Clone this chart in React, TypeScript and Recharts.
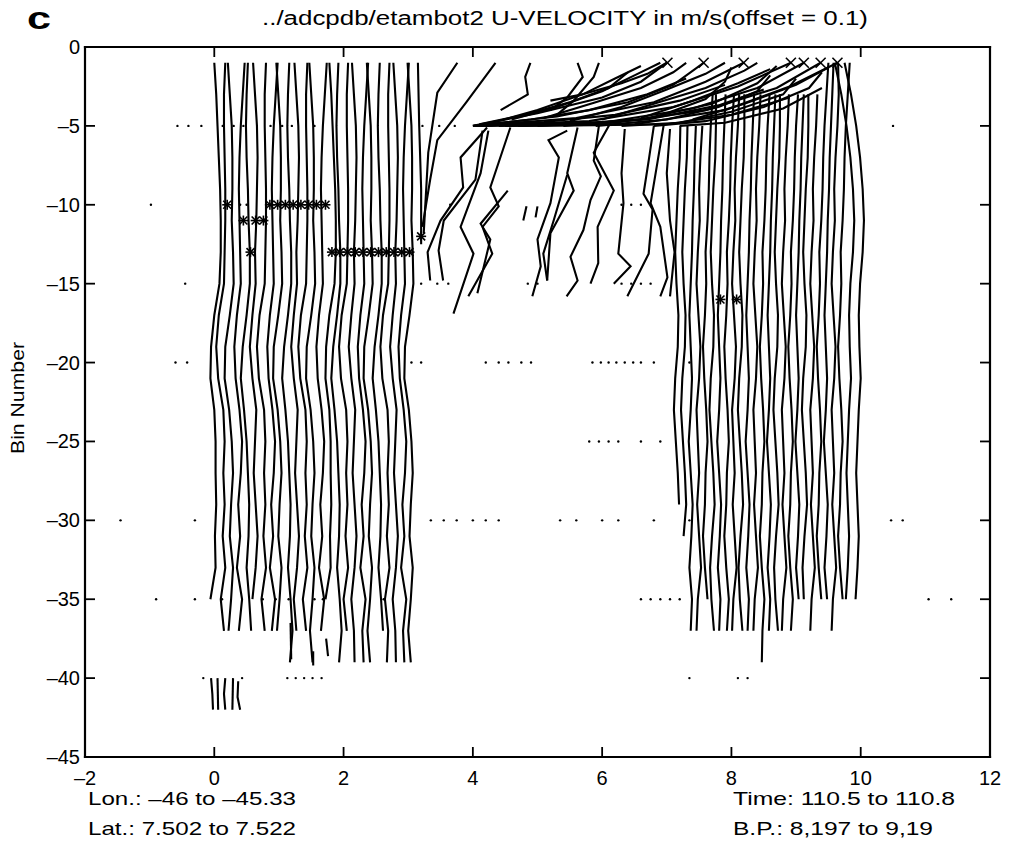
import { ComposedChart, Line, Scatter, XAxis, YAxis } from "recharts";

const X_TICKS = [-2, 0, 2, 4, 6, 8, 10, 12];
const Y_TICKS = [0, -5, -10, -15, -20, -25, -30, -35, -40, -45];
const X_DOMAIN = [-2, 12];
const Y_DOMAIN = [-45, 0];

// bins where every profile is sampled (top to bottom)
const BINS = [-1, -3, -5, -7, -9, -11, -13, -15, -17, -19, -21, -23, -25, -27, -29, -31, -33, -35, -37, -39];

// velocity offsets (x units) of the profiles in the left block, one value per bin
const LEFT_SHAPES = [
  [0.0, 0.03, 0.05, 0.07, 0.09, 0.1, 0.1, 0.08, 0.0, -0.05, -0.06, 0.0, 0.02, 0.02, 0.03, 0.01, 0.02, -0.06, 0.01, 0.0],
  [0.04, 0.02, 0.02, 0.03, 0.04, 0.04, 0.03, 0.02, -0.06, -0.1, -0.07, 0.01, 0.03, 0.01, 0.03, 0.0, 0.04, -0.03, 0.02, 0.0],
  [-0.05, -0.02, 0.01, 0.02, 0.02, 0.01, 0.03, 0.04, -0.02, -0.09, -0.1, -0.03, 0.01, 0.03, 0.0, -0.02, 0.03, 0.0, -0.04, 0.0],
  [0.09, 0.06, 0.03, 0.01, 0.0, 0.01, 0.02, 0.03, -0.03, -0.07, -0.05, 0.01, 0.05, 0.03, -0.01, 0.02, -0.03, 0.05, 0.0, 0.02],
  [0.02, 0.0, -0.01, 0.0, 0.02, 0.03, 0.05, 0.05, 0.0, -0.06, -0.09, -0.04, 0.0, 0.02, 0.04, 0.03, 0.0, 0.04, 0.07, 0.03],
  [-0.03, 0.0, 0.03, 0.04, 0.03, 0.02, 0.0, 0.01, -0.04, -0.08, -0.04, 0.02, 0.0, -0.02, 0.01, 0.04, 0.01, -0.04, 0.0, 0.01],
];
const LEFT_BASE = [0.0, 0.13, 0.26, 0.38, 0.5, 0.63, 0.76, 0.89, 1.01, 1.14, 1.27, 1.4, 1.52, 1.65, 1.78, 1.9, 2.03, 2.16, 2.29, 2.41, 2.54, 2.67, 2.8, 2.92, 3.04];
const LEFT_SHAPE_ID = [0, 1, 2, 3, 4, 5, 1, 3, 2, 4, 5, 1, 2, 3, 0, 4, 1, 5, 3, 2, 4, 1, 5, 3, 2];
const LEFT_BOTTOM = [-35, -37, -37, -37, -37, -35, -37, -37, -37, -39, -37, -37, -39, -37, -35, -39, -37, -39, -39, -39, -37, -39, -39, -39, -39];

// right block
const RIGHT_SHAPES = [
  [0.12, 0.1, 0.08, 0.06, 0.05, 0.03, 0.02, 0.0, -0.02, 0.0, 0.02, 0.0, -0.03, 0.0, 0.03, 0.01, -0.02, 0.02, 0.0, 0.0],
  [0.08, 0.09, 0.07, 0.04, 0.02, 0.03, 0.0, -0.02, 0.01, 0.04, 0.02, -0.02, 0.0, 0.02, -0.01, 0.02, 0.05, 0.0, -0.02, 0.0],
  [0.15, 0.12, 0.09, 0.07, 0.06, 0.04, 0.01, 0.02, 0.0, -0.03, -0.01, 0.02, 0.04, 0.01, 0.0, -0.03, 0.0, 0.04, 0.01, 0.0],
  [0.05, 0.06, 0.06, 0.05, 0.02, 0.0, -0.02, 0.0, 0.03, 0.02, -0.02, -0.04, -0.01, 0.02, 0.04, 0.0, -0.03, -0.01, 0.03, 0.0],
  [-0.2, -0.1, -0.02, 0.04, 0.08, 0.1, 0.08, 0.04, 0.02, 0.03, 0.05, 0.02, 0.0, -0.02, 0.0, 0.02, 0.0, -0.03, 0.0, 0.0],
];
const RIGHT_BASE = [7.15, 7.26, 7.37, 7.48, 7.59, 7.7, 7.81, 7.92, 8.03, 8.14, 8.25, 8.36, 8.47, 8.58, 8.69, 8.8, 8.91, 9.02, 9.13, 9.24, 9.35, 9.46, 9.57, 9.68, 9.8, 9.95];
const RIGHT_SHAPE_ID = [3, 3, 0, 1, 2, 3, 0, 2, 1, 3, 0, 1, 2, 0, 3, 1, 2, 0, 3, 1, 2, 0, 1, 2, 4, 4];
const RIGHT_TOP = [-5, -5, -5, -5, -3, -3, -3, -3, -3, -3, -3, -3, -3, -3, -3, -3, -3, -3, -3, -3, -1, -1, -1, -1, -1, -1];
const RIGHT_BOTTOM = [-29, -31, -37, -37, -35, -37, -37, -37, -37, -37, -37, -37, -39, -37, -37, -37, -37, -35, -35, -37, -35, -35, -37, -35, -35, -35];

// broken profiles in the middle gap, as [x, bin] vertices
const MID_LINES: number[][][] = [
  [[3.15, -1], [3.17, -5], [3.2, -9], [3.2, -12.5]],
  [[3.76, -1], [3.45, -2.9], [3.31, -6.7], [3.24, -11.8]],
  [[4.35, -1], [3.9, -3.5], [3.45, -5.9], [3.34, -8.4], [3.22, -11.4]],
  [[4.89, -1], [4.81, -1.9], [4.85, -3], [4.43, -4]],
  [[5.62, -1], [5.7, -1.9], [5.46, -3.2], [5.2, -4.0]],
  [[5.95, -1], [5.87, -1.9], [5.56, -3.4], [5.3, -4.3]],
  [[4.22, -5.1], [3.81, -7], [3.85, -8.9], [3.5, -11], [3.3, -13], [3.34, -14.8]],
  [[4.15, -5.3], [4.04, -8.4], [3.55, -11], [3.47, -12.9], [3.54, -14.8]],
  [[4.24, -5.3], [4.12, -8], [3.81, -11.4], [4.01, -13.1], [3.7, -16.9]],
  [[4.58, -5.1], [4.27, -8.9], [4.4, -10.1], [4.15, -11.4], [4.3, -13.1], [3.93, -15.8]],
  [[4.54, -9.1], [4.12, -11.2], [4.27, -12.2], [4.07, -15.6]],
  [[4.83, -10.1], [4.78, -11.0]],
  [[5.0, -10.1], [4.97, -10.8]],
  [[5.46, -5.3], [5.17, -5.9], [5.33, -7], [5.2, -9.9], [5.0, -12.2], [5.05, -13.9], [4.92, -15.8]],
  [[5.62, -5.1], [5.46, -8], [5.56, -9.1], [5.2, -11.8], [5.15, -14.8]],
  [[5.46, -8.1], [5.25, -11], [5.09, -13.1], [5.15, -14.8]],
  [[5.95, -5.0], [5.87, -7.2], [5.98, -8.2], [5.82, -9.7], [5.71, -11.6], [5.51, -13.3], [5.62, -14.8], [5.45, -15.8]],
  [[6.13, -4.8], [5.87, -6.7], [6.18, -9.1], [5.93, -11.4], [5.94, -13.7], [5.82, -15]],
  [[6.35, -5.2], [6.3, -8.0], [6.33, -9.9], [6.25, -13.1], [6.44, -13.9], [6.18, -15]],
  [[6.8, -5.0], [6.72, -7.2], [6.64, -9.3], [6.78, -10.3], [6.72, -13.1], [6.39, -15.8]],
  [[6.95, -5.0], [6.86, -7.2], [6.75, -9.9], [6.9, -11.4], [7.01, -14.6], [6.9, -15.8]],
  [[7.05, -5.2], [7.0, -8], [7.05, -11], [7.12, -13], [7.05, -15.8]],
];

// near-surface bins that fan out to the upper right
const FAN_LINES: number[][][] = [
  [[4.0, -5], [5.0, -4.2], [6.0, -3.2], [6.6, -2.2], [7.0, -1.0]],
  [[4.02, -5], [5.3, -4.4], [6.4, -3.5], [7.1, -2.4], [7.57, -1]],
  [[4.05, -5], [5.6, -4.5], [6.8, -3.5], [7.6, -2.2], [8.19, -1]],
  [[4.1, -5], [5.8, -4.7], [7.1, -3.8], [8.1, -2.5], [8.92, -1]],
  [[4.2, -5], [6.0, -4.8], [7.4, -3.9], [8.4, -2.6], [9.12, -1]],
  [[4.4, -5], [6.2, -4.8], [7.6, -4.0], [8.7, -2.6], [9.38, -1]],
  [[4.7, -5], [6.5, -4.9], [7.9, -4.0], [8.9, -2.5], [9.64, -1]],
  [[5.0, -5], [6.6, -4.6], [7.7, -3.6], [8.4, -2.3], [8.7, -1.2]],
  [[5.4, -5], [6.8, -4.5], [7.6, -3.3], [7.9, -2.2], [8.0, -1.3]],
  [[5.9, -5], [7.0, -4.6], [7.8, -3.8], [8.4, -2.8], [8.6, -1.8]],
  [[6.3, -5], [7.2, -4.8], [8.0, -4.1], [8.8, -3.0], [9.0, -2.0]],
  [[6.8, -5], [7.6, -4.7], [8.5, -3.8], [9.2, -2.6], [9.4, -1.6]],
  [[7.2, -5], [7.9, -4.8], [8.8, -3.9], [9.4, -2.6]],
  [[4.3, -4.8], [5.0, -4.0], [5.7, -3.0], [6.2, -2.0], [6.6, -1.2]],
  [[4.6, -4.6], [5.3, -3.8], [6.0, -2.8], [6.5, -1.8], [6.9, -1.0]],
  [[5.1, -4.5], [5.9, -3.5], [6.6, -2.6], [7.1, -1.6], [7.3, -1.0]],
  [[5.5, -4.7], [6.3, -3.8], [7.0, -2.7], [7.6, -1.7], [7.9, -1.0]],
  [[6.0, -4.6], [6.8, -3.6], [7.6, -2.6], [8.2, -1.5], [8.4, -1.0]],
  [[6.6, -4.5], [7.4, -3.4], [8.1, -2.3], [8.6, -1.4]],
  [[7.4, -4.6], [8.2, -3.6], [9.0, -2.4], [9.5, -1.3]],
  [[5.2, -3.4], [5.7, -3.0], [6.3, -2.3], [6.7, -1.7], [7.0, -1.0]],
  [[4.0, -5], [4.9, -4.6], [5.8, -4.0], [6.7, -3.0], [7.3, -2.0]],
  [[4.03, -5], [5.1, -4.75], [6.2, -4.3], [7.2, -3.4], [7.9, -2.4]],
  [[4.06, -5], [5.4, -4.9], [6.7, -4.6], [7.8, -3.7], [8.5, -2.7]],
  [[4.1, -4.9], [4.8, -4.3], [5.5, -3.5], [6.1, -2.6], [6.4, -1.6]],
  [[4.5, -5], [5.9, -4.95], [7.0, -4.9], [8.0, -4.3], [8.9, -3.2]],
];

// short deep pieces
const FRAGMENTS: number[][][] = [
  [[-0.05, -40], [-0.03, -41], [-0.02, -42]],
  [[0.05, -40], [0.06, -42]],
  [[0.17, -40], [0.15, -41], [0.17, -42]],
  [[0.29, -40], [0.28, -42]],
  [[0.37, -40.2], [0.36, -41.2], [0.4, -42]],
  [[1.18, -36.5], [1.19, -38.8]],
  [[1.53, -38.3], [1.53, -39.2]],
  [[1.73, -37.5], [1.76, -38.6]],
];

const STARS = [
  [0.2, -10], [0.45, -11], [0.64, -11], [0.76, -11], [0.56, -13],
  [0.86, -10], [0.98, -10], [1.1, -10], [1.22, -10], [1.34, -10], [1.46, -10], [1.58, -10], [1.72, -10],
  [1.82, -13], [1.94, -13], [2.06, -13], [2.18, -13], [2.3, -13], [2.42, -13], [2.54, -13], [2.66, -13], [2.78, -13], [2.9, -13], [3.02, -13],
  [3.2, -12], [7.83, -16], [8.08, -16],
];
const X_MARKS = [[7.01, -1], [7.57, -1], [8.19, -1], [8.92, -1], [9.12, -1], [9.38, -1], [9.64, -1]];

const DOT_ROWS = [
  { bin: -5, xs: [-0.57, -0.4, -0.2, 0.13, 0.3, 0.45, 0.87, 1.05, 1.2, 1.55, 3.22, 3.48, 3.72, 10.5] },
  { bin: -10, xs: [-0.98, 0.4, 0.5, 3.65, 6.3, 6.45, 6.6] },
  { bin: -15, xs: [-0.45, 3.2, 3.45, 3.62, 4.85, 5.0, 6.3, 6.45, 6.6, 6.75] },
  { bin: -20, xs: [-0.6, -0.42, 3.05, 3.2, 4.2, 4.4, 4.55, 4.75, 4.9, 5.85, 5.98, 6.1, 6.22, 6.35, 6.48, 6.6, 6.8, 7.35] },
  { bin: -25, xs: [5.8, 5.95, 6.1, 6.25, 6.6, 6.9] },
  { bin: -30, xs: [-1.45, -0.3, 3.35, 3.55, 3.75, 4.0, 4.2, 4.4, 5.35, 5.6, 6.0, 6.25, 6.8, 7.35, 10.47, 10.65] },
  { bin: -35, xs: [-0.9, -0.3, 0.12, 0.75, 0.95, 1.15, 1.55, 1.68, 2.62, 6.6, 6.75, 6.9, 7.05, 7.2, 11.05, 11.4] },
  { bin: -40, xs: [-0.17, 0.43, 1.13, 1.26, 1.39, 1.52, 1.66, 7.35, 8.1, 8.25] },
];

const FONT = "'Liberation Sans', Arial, Helvetica, sans-serif";
const INK = "#000";
const W = 1009;
const H = 842;
const MARGIN = { top: 47, right: 19, left: 0, bottom: 0 };
const Y_AXIS_W = 85;
const X_AXIS_H = 85;
// the plot box that follows from the margins and axis sizes
const BOX = {
  left: MARGIN.left + Y_AXIS_W,
  top: MARGIN.top,
  right: W - MARGIN.right,
  bottom: H - MARGIN.bottom - X_AXIS_H,
};
const sx = (v: number) => BOX.left + ((v - X_DOMAIN[0]) / (X_DOMAIN[1] - X_DOMAIN[0])) * (BOX.right - BOX.left);
const sy = (v: number) => BOX.bottom - ((v - Y_DOMAIN[0]) / (Y_DOMAIN[1] - Y_DOMAIN[0])) * (BOX.bottom - BOX.top);

type Pt = { x: number; y: number };

function sampled(base: number, shape: number[], top: number, bottom: number): Pt[] {
  return BINS.map((b, i) => ({ x: base + shape[i], y: b })).filter((p) => p.y <= top && p.y >= bottom);
}
const toPts = (line: number[][]): Pt[] => line.map(([x, y]) => ({ x, y }));

const series: Pt[][] = [
  ...LEFT_BASE.map((b, i) => sampled(b, LEFT_SHAPES[LEFT_SHAPE_ID[i]], -1, LEFT_BOTTOM[i])),
  ...RIGHT_BASE.map((b, i) => sampled(b, RIGHT_SHAPES[RIGHT_SHAPE_ID[i]], RIGHT_TOP[i], RIGHT_BOTTOM[i])),
  ...MID_LINES.map(toPts),
  ...FAN_LINES.map(toPts),
  ...FRAGMENTS.map(toPts),
];

const dots = DOT_ROWS.flatMap((r) => r.xs.map((x) => ({ x, y: r.bin })));

const fmt = (v: number) => (v < 0 ? "\u2013" + Math.abs(v) : String(v));

function XTickLabel({ x, payload }: any) {
  return (
    <text x={x} y={BOX.bottom + 28} textAnchor="middle" fontSize={20} fontFamily={FONT} fill={INK}>
      {fmt(payload.value)}
    </text>
  );
}
function YTickLabel({ y, payload }: any) {
  return (
    <text x={BOX.left - 5} y={y + 7} textAnchor="end" fontSize={20} fontFamily={FONT} fill={INK}>
      {fmt(payload.value)}
    </text>
  );
}

function Star({ cx, cy }: any) {
  const r = 5;
  return (
    <g stroke={INK} strokeWidth={1.6}>
      <line x1={cx - r} x2={cx + r} y1={cy} y2={cy} />
      <line x1={cx} x2={cx} y1={cy - r} y2={cy + r} />
      <line x1={cx - 4} x2={cx + 4} y1={cy - 4} y2={cy + 4} />
      <line x1={cx - 4} x2={cx + 4} y1={cy + 4} y2={cy - 4} />
    </g>
  );
}
function XMark({ cx, cy }: any) {
  const r = 5;
  return (
    <g stroke={INK} strokeWidth={1.6}>
      <line x1={cx - r} x2={cx + r} y1={cy - r} y2={cy + r} />
      <line x1={cx - r} x2={cx + r} y1={cy + r} y2={cy - r} />
    </g>
  );
}
function Dot({ cx, cy }: any) {
  return <circle cx={cx} cy={cy} r={1.2} fill={INK} />;
}

function Txt({ x, y, w, size, children, bold, anchor }: any) {
  return (
    <text
      x={x}
      y={y}
      fontSize={size}
      fontFamily={FONT}
      fontWeight={bold ? 700 : 400}
      textAnchor={anchor || "start"}
      textLength={w}
      lengthAdjust="spacingAndGlyphs"
      fill={INK}
    >
      {children}
    </text>
  );
}

export default function App() {
  return (
    <div style={{ position: "absolute", left: 0, top: 0, width: W, height: H, background: "#fff" }}>
      <ComposedChart width={W} height={H} margin={MARGIN}>
        <XAxis
          xAxisId="b"
          type="number"
          dataKey="x"
          domain={X_DOMAIN}
          ticks={X_TICKS}
          interval={0}
          allowDataOverflow
          height={X_AXIS_H}
          tickLine={false}
          tick={XTickLabel}
          axisLine={false}
        />
        <YAxis
          yAxisId="l"
          type="number"
          dataKey="y"
          domain={Y_DOMAIN}
          ticks={Y_TICKS}
          interval={0}
          allowDataOverflow
          width={Y_AXIS_W}
          tickLine={false}
          tick={YTickLabel}
          axisLine={false}
        />
        {series.map((pts, i) => (
          <Line
            key={i}
            xAxisId="b"
            yAxisId="l"
            data={pts}
            dataKey="y"
            type="linear"
            stroke={INK}
            strokeWidth={2.1}
            dot={false}
            activeDot={false}
            isAnimationActive={false}
          />
        ))}
        <Scatter xAxisId="b" yAxisId="l" data={dots} dataKey="y" shape={Dot} isAnimationActive={false} />
        <Scatter
          xAxisId="b"
          yAxisId="l"
          data={STARS.map(([x, y]) => ({ x, y }))}
          dataKey="y"
          shape={Star}
          isAnimationActive={false}
        />
        <Scatter
          xAxisId="b"
          yAxisId="l"
          data={X_MARKS.map(([x, y]) => ({ x, y }))}
          dataKey="y"
          shape={XMark}
          isAnimationActive={false}
        />
      </ComposedChart>
      <svg width={W} height={H} style={{ position: "absolute", left: 0, top: 0, pointerEvents: "none" }}>
        {/* box with inward ticks on all four sides */}
        <g stroke={INK} strokeWidth={2.2} strokeLinecap="square">
          <line x1={BOX.left} x2={BOX.right} y1={BOX.top} y2={BOX.top} />
          <line x1={BOX.left} x2={BOX.right} y1={BOX.bottom} y2={BOX.bottom} />
          <line x1={BOX.left} x2={BOX.left} y1={BOX.top} y2={BOX.bottom} />
          <line x1={BOX.right} x2={BOX.right} y1={BOX.top} y2={BOX.bottom} />
        </g>
        {X_TICKS.map((t) => (
          <g key={"x" + t} stroke={INK} strokeWidth={1.8}>
            <line x1={sx(t)} x2={sx(t)} y1={BOX.bottom} y2={BOX.bottom - 10} />
            <line x1={sx(t)} x2={sx(t)} y1={BOX.top} y2={BOX.top + 10} />
          </g>
        ))}
        {Y_TICKS.map((t) => (
          <g key={"y" + t} stroke={INK} strokeWidth={1.8}>
            <line x1={BOX.left} x2={BOX.left + 10} y1={sy(t)} y2={sy(t)} />
            <line x1={BOX.right} x2={BOX.right - 10} y1={sy(t)} y2={sy(t)} />
          </g>
        ))}
        <Txt x={27} y={29} w={24} size={32} bold>
          c
        </Txt>
        <Txt x={262} y={25} w={606} size={20}>
          ../adcpdb/etambot2 U-VELOCITY in m/s(offset = 0.1)
        </Txt>
        <g transform="translate(24 398) rotate(-90)">
          <Txt x={0} y={0} w={112} size={18} anchor="middle">
            Bin Number
          </Txt>
        </g>
        <Txt x={88} y={805} w={208} size={19}>
          Lon.: {"\u2013"}46 to {"\u2013"}45.33
        </Txt>
        <Txt x={88} y={835} w={208} size={19}>
          Lat.: 7.502 to 7.522
        </Txt>
        <Txt x={733} y={805} w={222} size={19}>
          Time: 110.5 to 110.8
        </Txt>
        <Txt x={733} y={835} w={200} size={19}>
          B.P.: 8,197 to 9,19
        </Txt>
      </svg>
    </div>
  );
}
